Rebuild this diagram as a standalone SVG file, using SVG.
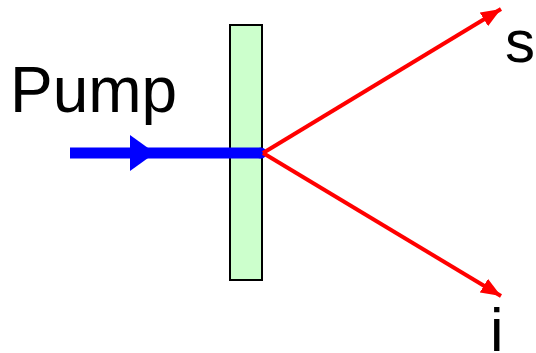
<svg xmlns="http://www.w3.org/2000/svg" width="536" height="353" viewBox="0 0 536 353">
<style>
.lbl{font-family:"Liberation Sans",Arial,sans-serif;fill:#000}
.red{stroke:#ff0000;stroke-width:4;fill:none}
</style>
<defs>
<marker id="ra" markerUnits="userSpaceOnUse" viewBox="0 0 20 16" refX="20" refY="8" markerWidth="20" markerHeight="16" orient="auto">
<path d="M0,0 L20,8 L0,16 z" fill="#ff0000"/>
</marker>
</defs>
<g id="crystal">
<rect x="230" y="25" width="32" height="255" fill="#ccffcc" stroke="#000" stroke-width="2"/>
</g>
<g id="connectors">
<line x1="70" y1="153" x2="261" y2="153" stroke="#0000ff" stroke-width="11" stroke-linecap="butt"/>
<circle cx="261" cy="153" r="5.5" fill="#0000ff"/>
<path d="M130,135 L155,153 L130,171 z" fill="#0000ff"/>
<line class="red" x1="263" y1="153" x2="501" y2="9" marker-end="url(#ra)"/>
<line class="red" x1="263" y1="153" x2="501" y2="296" marker-end="url(#ra)"/>
</g>
<g id="pump"><text class="lbl" x="10" y="112" font-size="64">Pump</text></g>
<g id="s"><text class="lbl" x="505" y="62" font-size="60">s</text></g>
<g id="i"><text class="lbl" x="490" y="351" font-size="61">i</text></g>
</svg>
